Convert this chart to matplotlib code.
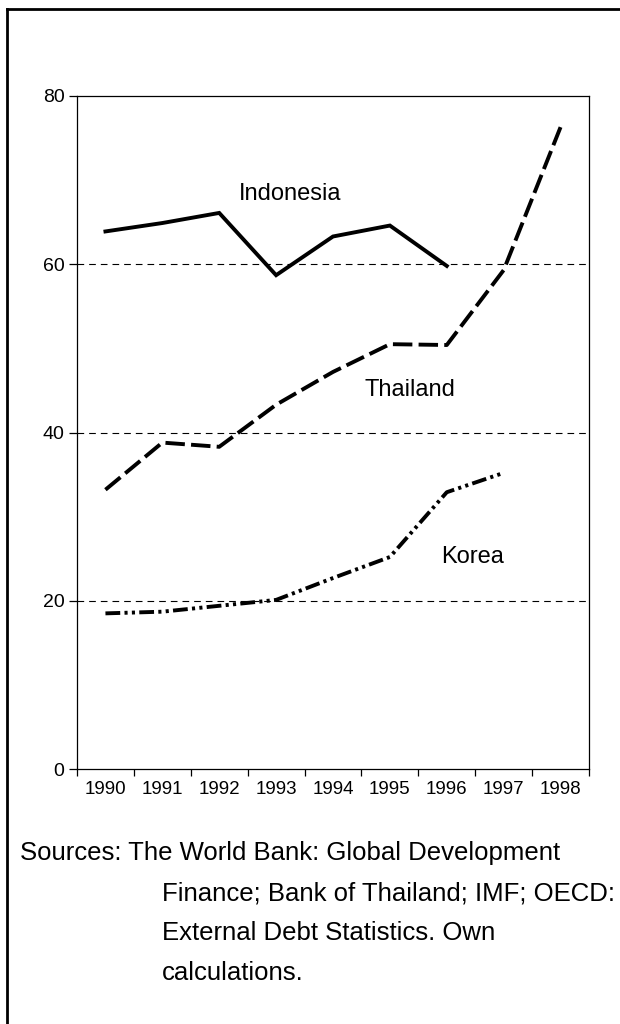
import matplotlib
matplotlib.use("Agg")
import matplotlib.pyplot as plt
from matplotlib.lines import Line2D

plt.rcParams['font.family'] = ['Liberation Sans', 'DejaVu Sans']

years = ["1990", "1991", "1992", "1993", "1994", "1995", "1996", "1997", "1998"]
indonesia = [63.9, 64.9, 66.1, 58.7, 63.3, 64.6, 59.8]
thailand = [33.2, 38.8, 38.3, 43.3, 47.2, 50.5, 50.4, 59.3, 76.3]
korea = [18.5, 18.7, 19.4, 20.1, 22.7, 25.2, 32.9, 35.2]
yticks = [0, 20, 40, 60, 80]
source_lines = ["Sources: The World Bank: Global Development",
                "Finance; Bank of Thailand; IMF; OECD:",
                "External Debt Statistics. Own",
                "calculations."]

fig = plt.figure(figsize=(6.2, 10.24), dpi=100)
ax = fig.add_axes([77/620, 1-769/1024, 512/620, 673/1024])

# dashed gridlines at 20/40/60
for v in yticks[1:-1]:
    ax.axhline(v, color="black", lw=0.8, dashes=(6, 4.5), zorder=1)

ax.plot(range(len(indonesia)), indonesia, color="black", lw=2.8,
        solid_joinstyle="miter", zorder=3)
ax.plot(range(len(thailand)), thailand, color="black", lw=2.8,
        dashes=(5, 1.6), zorder=3)
ax.plot(range(len(korea)), korea, color="black", lw=2.8,
        dashes=(3.8, 1.1, 0.8, 1.1, 0.8, 1.1), zorder=3)

ax.text(3.25, 68.4, "Indonesia", fontsize=17, ha="center", va="center")
ax.text(5.35, 45.0, "Thailand", fontsize=17, ha="center", va="center")
ax.text(6.45, 25.2, "Korea", fontsize=17, ha="center", va="center")

ax.set_xlim(-0.5, len(years) - 0.5)
ax.set_ylim(0, 80)
ax.set_yticks(yticks)
ax.set_yticklabels([str(v) for v in yticks], fontsize=14)
ax.set_xticks([i - 0.5 for i in range(len(years) + 1)])
ax.set_xticklabels([])
ax.set_xticks(range(len(years)), minor=True)
ax.set_xticklabels(years, minor=True, fontsize=13.5)
ax.tick_params(axis="x", which="minor", length=0, pad=9)
ax.tick_params(axis="x", which="major", length=5, width=0.9, direction="out")
ax.tick_params(axis="y", length=6, width=0.9, direction="out", pad=3)
for s in ax.spines.values():
    s.set_linewidth(0.9)

# source note
y0 = 1 - 853/1024
step = 40/1024
fig.text(20/620, y0, source_lines[0], fontsize=18.5, va="center", ha="left")
for i, line in enumerate(source_lines[1:], start=1):
    fig.text(162/620, y0 - i*step, line, fontsize=18.5, va="center", ha="left")

# outer frame (top and left edges visible)
fig.add_artist(Line2D([7/620, 1.0], [1-9/1024, 1-9/1024], color="black", lw=2,
                      transform=fig.transFigure))
fig.add_artist(Line2D([7/620, 7/620], [1-9/1024, 0.0], color="black", lw=2,
                      transform=fig.transFigure))

fig.savefig("out.png", dpi=100)
